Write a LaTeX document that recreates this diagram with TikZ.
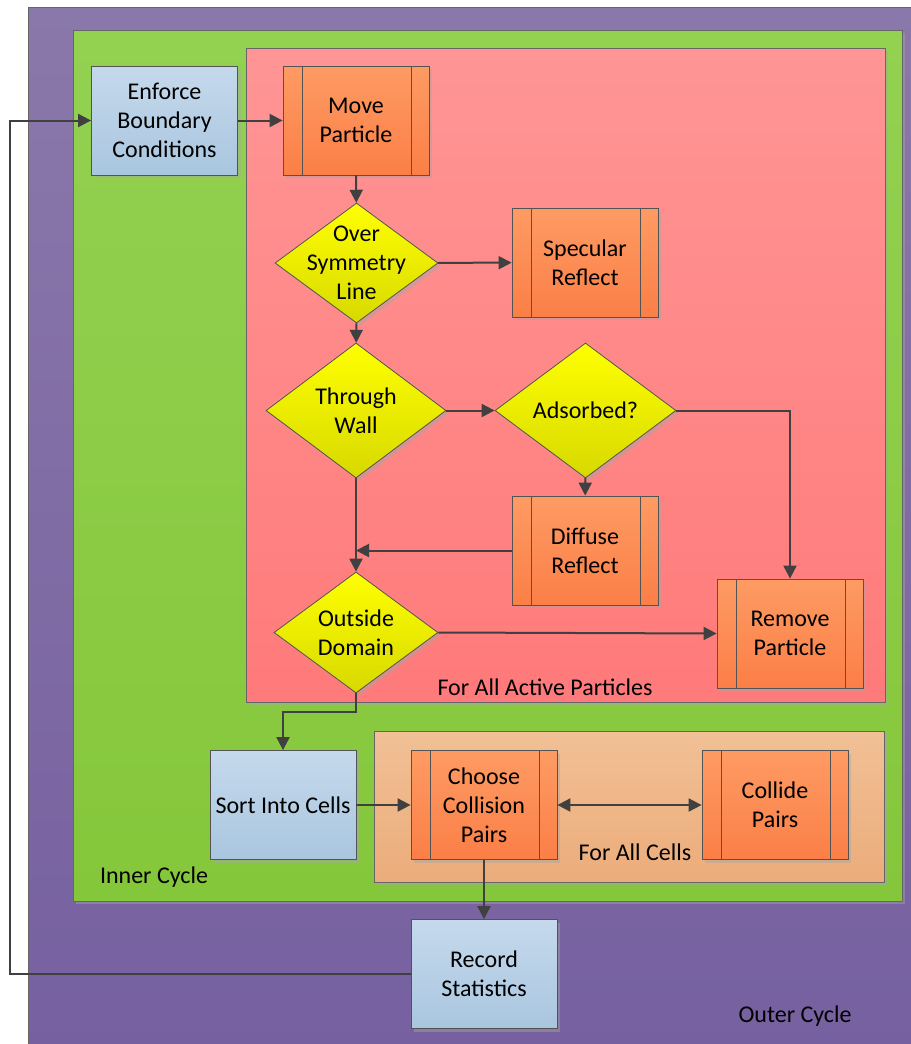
\documentclass[tikz,border=0pt]{standalone}
\usepackage{fontspec}
\setmainfont{Carlito}
\usetikzlibrary{positioning, arrows.meta, shapes.geometric, shadows}

\definecolor{linegray}{HTML}{404040}
\definecolor{purpleTop}{HTML}{8A78AA}
\definecolor{purpleBot}{HTML}{7660A0}
\definecolor{greenTop}{HTML}{93D151}
\definecolor{greenBot}{HTML}{85C73B}
\definecolor{pinkTop}{HTML}{FF9595}
\definecolor{pinkBot}{HTML}{FF7A7A}
\definecolor{tanTop}{HTML}{F1C096}
\definecolor{tanBot}{HTML}{ECAC7A}
\definecolor{blueTop}{HTML}{C5D9EC}
\definecolor{blueBot}{HTML}{A9C6DF}
\definecolor{orangeTop}{HTML}{FD9B63}
\definecolor{orangeBot}{HTML}{FB7F47}
\definecolor{yellowTop}{HTML}{FFFF00}
\definecolor{yellowBot}{HTML}{D7D900}

\begin{document}
\begin{tikzpicture}[
    x=1bp, y=-1bp,
    font=\fontsize{24bp}{29bp}\selectfont,
    softshadow/.style={drop shadow={shadow xshift=3bp, shadow yshift=-3bp, fill=gray!70, opacity=0.45}},
    region/.style={rectangle, draw=linegray!80, line width=0.8bp, anchor=north west, inner sep=0, softshadow},
    proc/.style={rectangle, draw=linegray!90, line width=0.8bp, top color=blueTop, bottom color=blueBot, minimum width=146bp, minimum height=109bp, align=center, inner sep=0, softshadow},
    subproc/.style={rectangle, draw=linegray!90, line width=0.8bp, top color=orangeTop, bottom color=orangeBot, minimum width=146bp, minimum height=109bp, align=center, inner sep=0, softshadow,
        path picture={
            \draw[linegray!90, line width=0.8bp] ([xshift=19bp]path picture bounding box.north west) -- ([xshift=19bp]path picture bounding box.south west);
            \draw[linegray!90, line width=0.8bp] ([xshift=-18bp]path picture bounding box.north east) -- ([xshift=-18bp]path picture bounding box.south east);
        }},
    decision/.style={diamond, draw=linegray!90, line width=0.8bp, top color=yellowTop, bottom color=yellowBot, inner sep=0, softshadow},
    dtext/.style={align=center, inner sep=0},
    arrow/.style={-{Triangle[length=13bp, width=13bp]}, draw=linegray, line width=2bp},
    biarrow/.style={{Triangle[length=13bp, width=13bp]}-{Triangle[length=13bp, width=13bp]}, draw=linegray, line width=2bp}
]
    \useasboundingbox (0,0) rectangle (911,1044);

    % Cycles and loops
    \node[region, top color=purpleTop, bottom color=purpleBot, minimum width=895bp, minimum height=1050bp] (outer) at (28,7) {};
    \node[region, top color=greenTop, bottom color=greenBot, minimum width=829bp, minimum height=871bp] (inner) at (73,30) {};
    \node[region, top color=pinkTop, bottom color=pinkBot, minimum width=639bp, minimum height=654bp] (particles) at (246,48) {};
    \node[region, top color=tanTop, bottom color=tanBot, minimum width=510bp, minimum height=151bp] (cells) at (374,731) {};

    \node (outerlbl) at (795,1016) {Outer Cycle};
    \node (innerlbl) at (154,877) {Inner Cycle};
    \node (particleslbl) at (545,687) {For All Active Particles};
    \node (cellslbl) at (635,852) {For All Cells};

    % Particle steps
    \node[proc] (enforce) at (164.5,120.5) {Enforce\\Boundary\\Conditions};
    \node[subproc] (move) at (356,120.5) {Move\\Particle};
    \node[decision, minimum width=163bp, minimum height=120bp, label={[dtext]center:Over\\Symmetry\\Line}] (symm) at (356.5,263) {};
    \node[subproc] (specular) at (585,262.5) {Specular\\Reflect};
    \node[decision, minimum width=180bp, minimum height=135bp, label={[dtext]center:Through\\Wall}] (wall) at (356,410.5) {};
    \node[decision, minimum width=181bp, minimum height=135bp, label={[dtext]center:Adsorbed?}] (adsorbed) at (585.5,410.5) {};
    \node[subproc] (diffuse) at (585,550.5) {Diffuse\\Reflect};
    \node[decision, minimum width=164bp, minimum height=121bp, label={[dtext]center:Outside\\Domain}] (outside) at (356,632.5) {};
    \node[subproc] (remove) at (790,633.5) {Remove\\Particle};

    % Collision steps
    \node[proc] (sort) at (283,805) {Sort Into Cells};
    \node[subproc] (choose) at (484,805) {Choose\\Collision\\Pairs};
    \node[subproc] (collide) at (775,805) {Collide\\Pairs};
    \node[proc] (record) at (484,974) {Record\\Statistics};

    % Edges
    \draw[arrow] (enforce) -- (move);
    \draw[arrow] (move) -- (symm);
    \draw[arrow] (symm) -- (specular);
    \draw[arrow] (symm) -- (wall);
    \draw[arrow] (wall) -- (adsorbed);
    \draw[arrow] (adsorbed.east) -| (remove.north);
    \draw[arrow] (adsorbed) -- (diffuse);
    \draw[arrow] (wall) -- (outside);
    \draw[arrow] (diffuse.west) -- (diffuse.west -| wall.south);
    \draw[arrow] (outside.east) -- (remove.west);
    \draw[arrow] (outside.south) -- ++(0,19) -| (sort.north);
    \draw[arrow] (sort) -- (choose);
    \draw[biarrow] (choose) -- (collide);
    \draw[arrow] (choose) -- (record);

    % Back to the start of the outer cycle
    \coordinate (loop) at (10,974);
    \draw[arrow] (record.west) -- (loop) |- (enforce.west);

\end{tikzpicture}
\end{document}
